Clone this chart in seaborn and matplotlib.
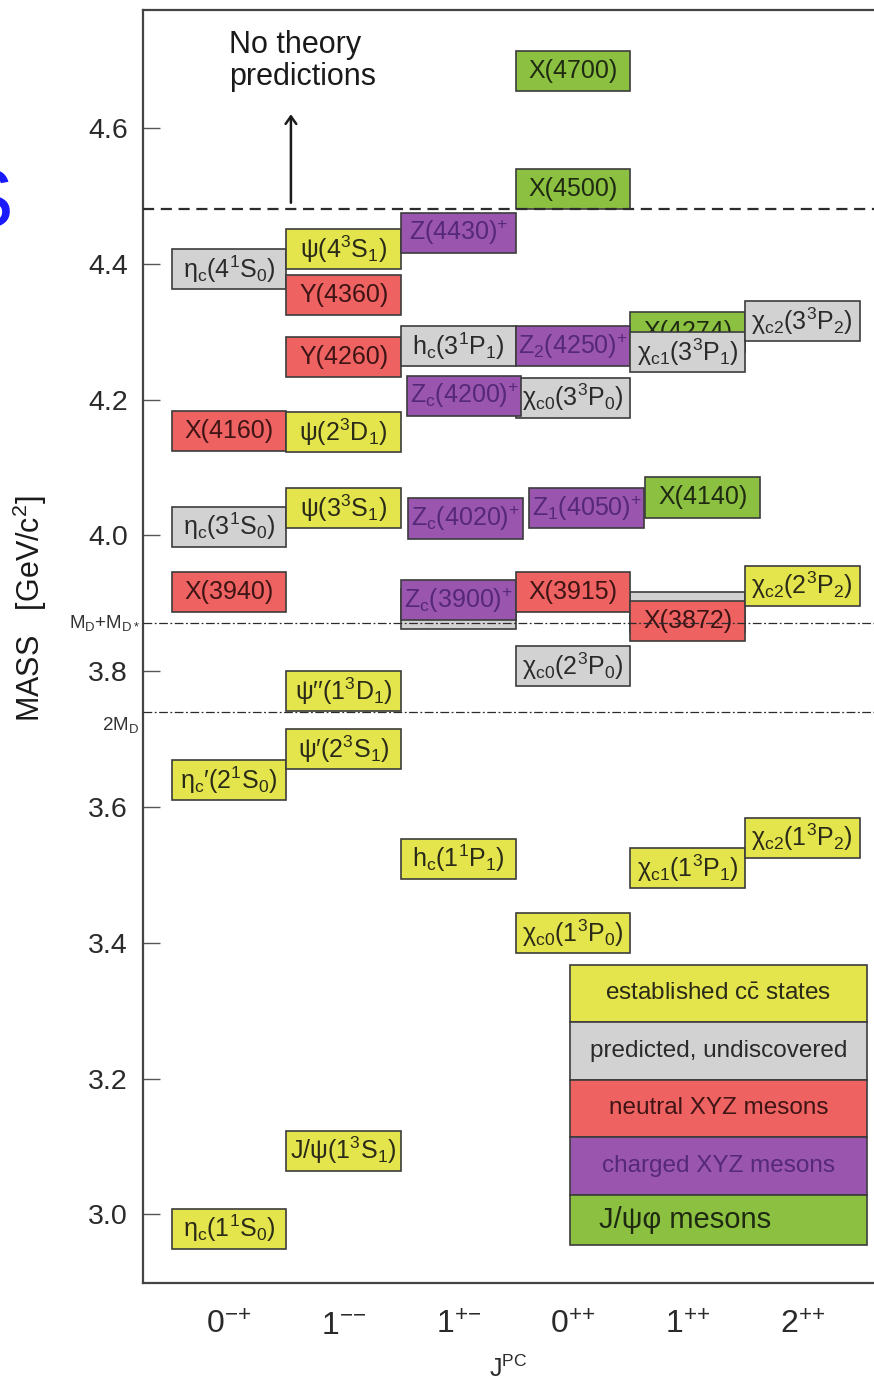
import matplotlib
matplotlib.use("Agg")
import matplotlib.pyplot as plt
from matplotlib.patches import Rectangle
import seaborn as sns

sns.set_theme(style="white")
plt.rcParams["font.family"] = ["Liberation Sans", "DejaVu Sans"]
plt.rcParams["mathtext.fontset"] = "custom"
plt.rcParams["mathtext.rm"] = "Liberation Sans"
plt.rcParams["mathtext.it"] = "Liberation Sans:italic"
plt.rcParams["mathtext.bf"] = "Liberation Sans:bold"

# ---------------- data ----------------
jpc_labels = [r"0$^{\mathregular{{-}{+}}}$", r"1$^{\mathregular{{-}{-}}}$", r"1$^{\mathregular{{+}{-}}}$",
              r"0$^{\mathregular{{+}{+}}}$", r"1$^{\mathregular{{+}{+}}}$", r"2$^{\mathregular{{+}{+}}}$"]

state_labels = [
    "", "", "X(4274)",
    r"η$_\mathregular{c}$(1$^\mathregular{1}$S$_\mathregular{0}$)",
    r"η$_\mathregular{c}$′(2$^\mathregular{1}$S$_\mathregular{0}$)",
    "X(3940)",
    r"η$_\mathregular{c}$(3$^\mathregular{1}$S$_\mathregular{0}$)",
    "X(4160)",
    r"η$_\mathregular{c}$(4$^\mathregular{1}$S$_\mathregular{0}$)",
    r"J/ψ(1$^\mathregular{3}$S$_\mathregular{1}$)",
    r"ψ′(2$^\mathregular{3}$S$_\mathregular{1}$)",
    r"ψ′′(1$^\mathregular{3}$D$_\mathregular{1}$)",
    r"ψ(3$^\mathregular{3}$S$_\mathregular{1}$)",
    r"ψ(2$^\mathregular{3}$D$_\mathregular{1}$)",
    "Y(4260)",
    "Y(4360)",
    r"ψ(4$^\mathregular{3}$S$_\mathregular{1}$)",
    r"h$_\mathregular{c}$(1$^\mathregular{1}$P$_\mathregular{1}$)",
    r"Z$_\mathregular{c}$(3900)$^\mathregular{+}$",
    r"Z$_\mathregular{c}$(4020)$^\mathregular{+}$",
    r"h$_\mathregular{c}$(3$^\mathregular{1}$P$_\mathregular{1}$)",
    r"Z(4430)$^\mathregular{+}$",
    r"χ$_\mathregular{c0}$(1$^\mathregular{3}$P$_\mathregular{0}$)",
    r"χ$_\mathregular{c0}$(2$^\mathregular{3}$P$_\mathregular{0}$)",
    "X(3915)",
    r"Z$_\mathregular{1}$(4050)$^\mathregular{+}$",
    r"χ$_\mathregular{c0}$(3$^\mathregular{3}$P$_\mathregular{0}$)",
    r"Z$_\mathregular{c}$(4200)$^\mathregular{+}$",
    r"Z$_\mathregular{2}$(4250)$^\mathregular{+}$",
    "X(4500)",
    "X(4700)",
    r"χ$_\mathregular{c1}$(1$^\mathregular{3}$P$_\mathregular{1}$)",
    "X(3872)",
    "X(4140)",
    r"χ$_\mathregular{c1}$(3$^\mathregular{3}$P$_\mathregular{1}$)",
    r"χ$_\mathregular{c2}$(1$^\mathregular{3}$P$_\mathregular{2}$)",
    r"χ$_\mathregular{c2}$(2$^\mathregular{3}$P$_\mathregular{2}$)",
    r"χ$_\mathregular{c2}$(3$^\mathregular{3}$P$_\mathregular{2}$)",
]
state_jpc = [2, 4, 4,
             0, 0, 0, 0, 0, 0,
             1, 1, 1, 1, 1, 1, 1, 1,
             2, 2, 2, 2, 2,
             3, 3, 3, 3, 3, 2, 3, 3, 3,
             4, 4, 4, 4,
             5, 5, 5]
state_mass = [3.892, 3.887, 4.300,
              2.979, 3.640, 3.917, 4.013, 4.154, 4.392,
              3.094, 3.685, 3.771, 4.040, 4.152, 4.2635, 4.354, 4.422,
              3.524, 3.905, 4.025, 4.279, 4.446,
              3.414, 3.808, 3.917, 4.040, 4.203, 4.206, 4.279, 4.511, 4.684,
              3.510, 3.874, 4.056, 4.270,
              3.555, 3.926, 4.316]
state_type = ["pred", "pred", "jpsiphi",
              "est", "est", "neutral", "pred", "neutral", "pred",
              "est", "est", "est", "est", "est", "neutral", "neutral", "est",
              "est", "charged", "charged", "pred", "charged",
              "est", "pred", "neutral", "charged", "pred", "charged", "charged", "jpsiphi", "jpsiphi",
              "est", "neutral", "jpsiphi", "pred",
              "est", "est", "pred"]

legend_types = ["est", "pred", "neutral", "charged", "jpsiphi"]
legend_texts = [r"established c$\bar{\mathrm{c}}$ states", "predicted, undiscovered",
                "neutral XYZ mesons", "charged XYZ mesons", "J/ψφ mesons"]

threshold_top = 4.481      # "No theory predictions" limit
m_d_dstar = 3.8716         # M_D + M_D*
two_m_d = 3.7396           # 2 M_D
yticks = [3.0, 3.2, 3.4, 3.6, 3.8, 4.0, 4.2, 4.4, 4.6]

# ---------------- style ----------------
fill = {"est": "#E4E44C", "pred": "#D2D2D2", "neutral": "#EF6262",
        "charged": "#9A55AE", "jpsiphi": "#8CC040"}
txt_col = {"est": "#2a2a18", "pred": "#2a2a2a", "neutral": "#3e1414",
           "charged": "#55287a", "jpsiphi": "#1f2a12"}
# small horizontal nudges of some boxes (layout only)
nudge = {r"Z$_\mathregular{c}$(4020)$^\mathregular{+}$": 0.06,
         r"Z$_\mathregular{c}$(4200)$^\mathregular{+}$": 0.05,
         r"Z$_\mathregular{1}$(4050)$^\mathregular{+}$": 0.12,
         "X(4140)": 0.13}
box_h = 0.059

W, H = 874, 1386
fig = plt.figure(figsize=(W / 100, H / 100), dpi=100)
ax = fig.add_axes([143 / W, 1 - 1283 / H, 731 / W, 1273 / H])
ax.set_xlim(-0.75, 5.625)
ax.set_ylim(2.899, 4.774)

for i, (lab, j, m, t) in enumerate(zip(state_labels, state_jpc, state_mass, state_type)):
    x = j + nudge.get(lab, 0.0)
    z = 2 + i * 0.02
    ax.bar([x], [box_h], bottom=[m - box_h / 2], width=1.0, color=fill[t],
           edgecolor="#3c3c3c", linewidth=1.2, zorder=z)
    if lab:
        ax.text(x, m, lab, ha="center", va="center", fontsize=18,
                color=txt_col[t], zorder=z + 0.01)

# threshold lines
ax.axhline(threshold_top, color="#2c2c2c", lw=1.6, ls=(0, (5, 3)), zorder=10)
ax.axhline(m_d_dstar, color="#2c2c2c", lw=0.9, ls=(0, (7, 2, 1.5, 2)), zorder=10)
ax.axhline(two_m_d, color="#2c2c2c", lw=0.9, ls=(0, (7, 2, 1.5, 2)), zorder=10)
ax.text(-0.78, m_d_dstar, r"M$_\mathregular{D}$+M$_\mathregular{D*}$", ha="right", va="center",
        fontsize=13.5, color="#333333", clip_on=False)
ax.text(-0.78, two_m_d - 0.004, r"2M$_\mathregular{D}$", ha="right", va="top",
        fontsize=13.5, color="#333333", clip_on=False)

# arrow and "No theory predictions"
ax.annotate("", xy=(0.54, 4.6245), xytext=(0.54, 4.486),
            arrowprops=dict(arrowstyle="->,head_length=0.45,head_width=0.32",
                            lw=1.8, color="#1a1a1a"))
ax.text(0.0, 4.745, "No theory\npredictions", ha="left", va="top", fontsize=22,
        color="#1a1a1a", linespacing=1.1)

# legend boxes (axes coordinates)
edges = [0.2498, 0.2050, 0.1595, 0.1147, 0.0691, 0.0299]
lx0, lx1 = 0.584, 0.990
for k, (t, s) in enumerate(zip(legend_types, legend_texts)):
    top, bot = edges[k], edges[k + 1]
    ax.add_patch(Rectangle((lx0, bot), lx1 - lx0, top - bot, transform=ax.transAxes,
                           facecolor=fill[t], edgecolor="#3c3c3c", lw=1.2, zorder=12))
    if t == "jpsiphi":
        ax.text(lx0 + 0.04, (top + bot) / 2, s, transform=ax.transAxes, ha="left",
                va="center", fontsize=21, color=txt_col[t], zorder=13)
    else:
        ax.text((lx0 + lx1) / 2, (top + bot) / 2, s, transform=ax.transAxes, ha="center",
                va="center", fontsize=17.5, color=txt_col[t], zorder=13)

# axes styling
ax.set_xticks(range(len(jpc_labels)))
ax.set_xticklabels(jpc_labels, fontsize=23, color="#2a2a2a")
ax.set_yticks(yticks)
ax.set_yticklabels([f"{v:.1f}" for v in yticks], fontsize=20.5, color="#2a2a2a")
ax.tick_params(axis="y", direction="in", length=12, width=1.0, color="#555555", pad=11, left=True)
ax.tick_params(axis="x", length=0, pad=20)
ax.set_xlabel(r"J$^\mathregular{PC}$", fontsize=18, color="#2a2a2a", labelpad=11)
for side in ["left", "bottom", "top"]:
    ax.spines[side].set_visible(True)
    ax.spines[side].set_color("#444444")
    ax.spines[side].set_linewidth(1.6)
ax.spines["right"].set_visible(False)
ax.grid(False)

fig.text(30 / W, 1 - 609 / H, r"MASS   [GeV/c$^\mathregular{2}$]", rotation=90,
         ha="center", va="center", fontsize=22, color="#1a1a1a")
fig.text(13 / W, 1 - 205 / H, "S", ha="right", va="center", fontsize=60, color="#1a1aff")

fig.savefig("out.png", dpi=100)
